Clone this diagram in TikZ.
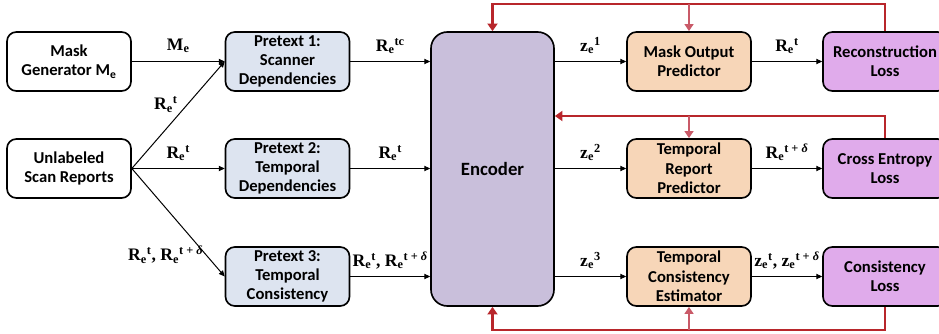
\documentclass[tikz,border=0pt]{standalone}
\usepackage{fontspec}
\setmainfont{Carlito}
\newfontfamily\lblfont{Liberation Serif}
\usetikzlibrary{arrows.meta,positioning}
\definecolor{pretextblue}{HTML}{DDE4F0}
\definecolor{encviolet}{HTML}{C9BFDB}
\definecolor{headorange}{HTML}{F7D6B8}
\definecolor{lossviolet}{HTML}{E0ABEB}
\definecolor{fbred}{HTML}{B8262B}
\definecolor{fbpink}{HTML}{C95A68}
\tikzset{
  blockbox/.style={draw,line width=1.4pt,rounded corners=8pt,align=center,
    minimum width=3.72cm,minimum height=1.77cm,inner xsep=2pt,inner ysep=0pt,
    font=\bfseries\fontsize{14.2}{16.5}\selectfont},
  flow/.style={-{Triangle[length=5pt,width=4.5pt]},line width=0.85pt},
  fbmain/.style={fbred,line width=2.4pt,-{Triangle[length=6.5pt,width=8.5pt]}},
  fbhead/.style={fbpink,line width=1.6pt,-{Triangle[length=6pt,width=7.5pt]}},
  lbl/.style={font=\lblfont\bfseries\fontsize{15}{17}\selectfont,inner sep=1pt}
}
\begin{document}
\begin{tikzpicture}[x=0.03cm,y=0.03cm]
  \useasboundingbox (0,0) rectangle (939,334);
  \clip (0,0) rectangle (939,334);
  % inputs
  \node[blockbox] (maskgen) at (69,272.5) {Mask\\Generator M\textsubscript{e}};
  \node[blockbox] (reports) at (69,165.5) {Unlabeled\\Scan Reports};
  % pretext tasks
  \node[blockbox,fill=pretextblue] (pre1) at (287.5,272.5) {Pretext 1:\\Scanner\\Dependencies};
  \node[blockbox,fill=pretextblue] (pre2) at (287.5,165.5) {Pretext 2:\\Temporal\\Dependencies};
  \node[blockbox,fill=pretextblue] (pre3) at (287.5,57.5) {Pretext 3:\\Temporal\\Consistency};
  % encoder
  \node[blockbox,fill=encviolet,minimum width=3.69cm,minimum height=8.22cm,rounded corners=14pt,
    font=\bfseries\fontsize{16}{18}\selectfont] (enc) at (492.5,165) {Encoder};
  % heads
  \node[blockbox,fill=headorange] (head1) at (689,272.5) {Mask Output\\Predictor};
  \node[blockbox,fill=headorange] (head2) at (689,165.5) {Temporal\\Report\\Predictor};
  \node[blockbox,fill=headorange] (head3) at (689,57.5) {Temporal\\Consistency\\Estimator};
  % losses
  \node[blockbox,fill=lossviolet] (loss1) at (885,272.5) {Reconstruction\\Loss};
  \node[blockbox,fill=lossviolet] (loss2) at (885,165.5) {Cross Entropy\\Loss};
  \node[blockbox,fill=lossviolet] (loss3) at (885,57.5) {Consistency\\Loss};
  % inputs to pretext tasks
  \draw[flow] (maskgen) -- (pre1) node[lbl,midway,above=6pt] {M\textsubscript{e}};
  \draw[flow] (reports.east) -- (pre1.west) node[lbl,pos=0.6,left=7pt] {R\textsubscript{e}\textsuperscript{t}};
  \draw[flow] (reports.east) -- (pre2.west) node[lbl,midway,above=5pt] {R\textsubscript{e}\textsuperscript{t}};
  \draw[flow] (reports.east) -- (pre3.west) node[lbl,pos=0.8,left=1pt] {R\textsubscript{e}\textsuperscript{t}, R\textsubscript{e}\textsuperscript{t + \textit{δ}}};
  % pretext tasks to encoder
  \draw[flow] (pre1.east) -- (pre1.east -| enc.west) node[lbl,midway,above=5pt] {R\textsubscript{e}\textsuperscript{tc}};
  \draw[flow] (pre2.east) -- (pre2.east -| enc.west) node[lbl,midway,above=5pt] {R\textsubscript{e}\textsuperscript{t}};
  \draw[flow] (pre3.east) -- (pre3.east -| enc.west) node[lbl,midway,above=5pt] {R\textsubscript{e}\textsuperscript{t}, R\textsubscript{e}\textsuperscript{t + \textit{δ}}};
  % encoder to heads
  \draw[flow] (enc.east |- head1.west) -- (head1.west) node[lbl,midway,above=5pt] {z\textsubscript{e}\textsuperscript{1}};
  \draw[flow] (enc.east |- head2.west) -- (head2.west) node[lbl,midway,above=5pt] {z\textsubscript{e}\textsuperscript{2}};
  \draw[flow] (enc.east |- head3.west) -- (head3.west) node[lbl,midway,above=5pt] {z\textsubscript{e}\textsuperscript{3}};
  % heads to losses
  \draw[flow] (head1) -- (loss1) node[lbl,midway,above=5pt] {R\textsubscript{e}\textsuperscript{t}};
  \draw[flow] (head2) -- (loss2) node[lbl,midway,above=5pt] {R\textsubscript{e}\textsuperscript{t + \textit{δ}}};
  \draw[flow] (head3) -- (loss3) node[lbl,midway,above=5pt] {z\textsubscript{e}\textsuperscript{t}, z\textsubscript{e}\textsuperscript{t + \textit{δ}}};
  % feedback
  \coordinate (topbus) at (0,330);
  \coordinate (midbus) at (0,218);
  \coordinate (botbus) at (0,4);
  \draw[fbmain] (loss1.north) -- (loss1.north |- topbus) -- (enc.north |- topbus) -- (enc.north);
  \draw[fbhead] (head1.north |- topbus) -- (head1.north);
  \draw[fbmain] (loss2.north) |- (enc.east |- midbus);
  \draw[fbhead] (head2.north |- midbus) -- (head2.north);
  \draw[fbmain] (loss3.south) -- (loss3.south |- botbus) -- (enc.south |- botbus) -- (enc.south);
  \draw[fbhead] (head3.south |- botbus) -- (head3.south);
\end{tikzpicture}
\end{document}
